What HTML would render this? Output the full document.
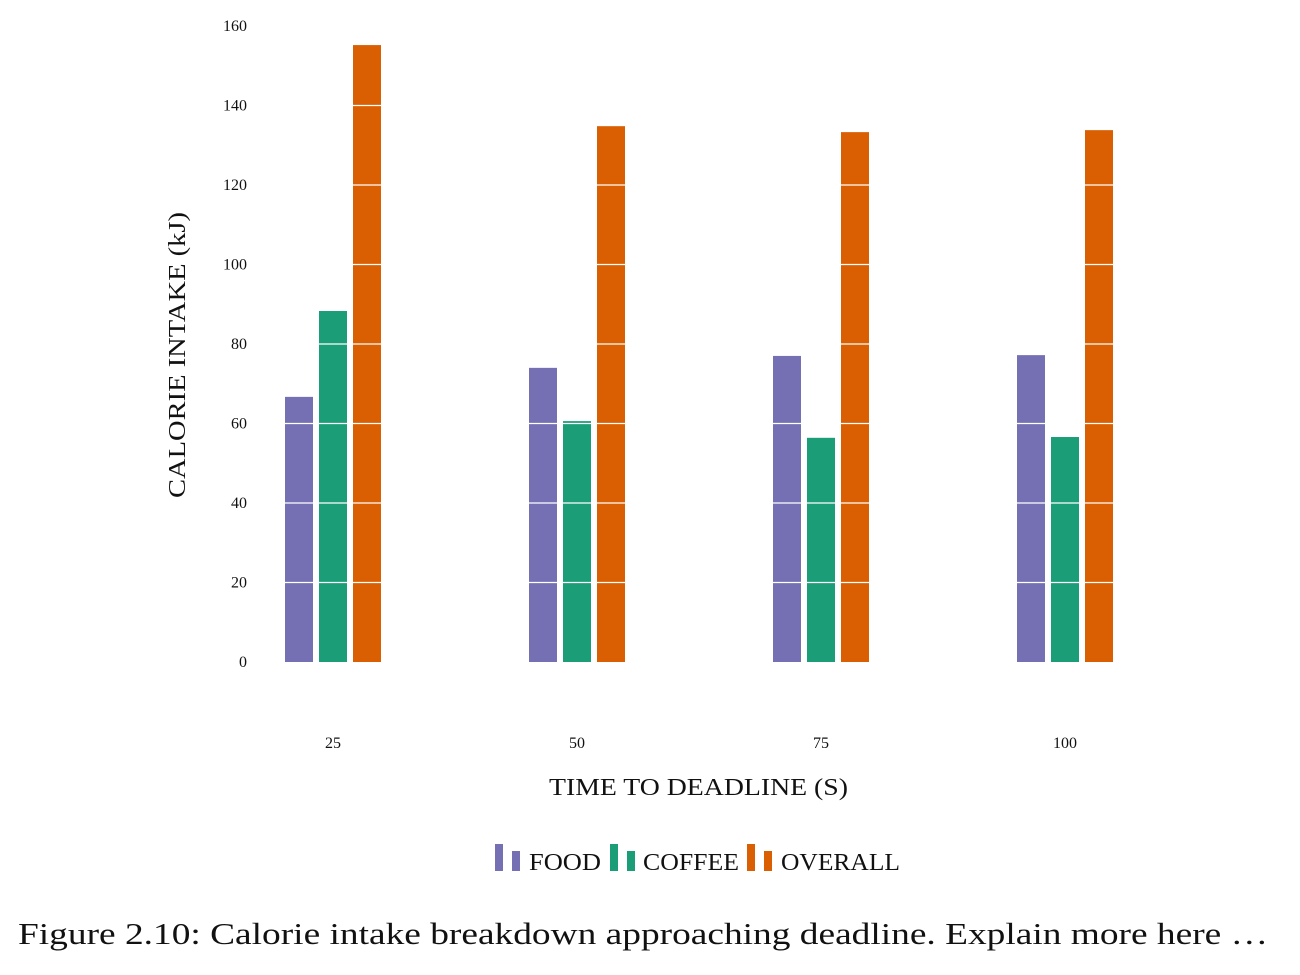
<!DOCTYPE html>
<html><head><meta charset="utf-8"><style>
body{margin:0;background:#fff;width:1300px;height:970px;overflow:hidden}
svg text{font-family:"Liberation Serif",serif;fill:#111}
</style></head><body>
<svg width="1300" height="970">
<g id="plot"></g>
<text x="333" y="748" font-size="16" text-anchor="middle">25</text>
<text x="577" y="748" font-size="16" text-anchor="middle">50</text>
<text x="821" y="748" font-size="16" text-anchor="middle">75</text>
<text x="1065" y="748" font-size="16" text-anchor="middle">100</text>
<text x="549" y="795" font-size="24" textLength="299" lengthAdjust="spacingAndGlyphs">TIME TO DEADLINE (S)</text>
<text transform="translate(185,498) rotate(-90)" font-size="24" textLength="286" lengthAdjust="spacingAndGlyphs">CALORIE INTAKE (kJ)</text>
<g>
<rect x="495" y="844" width="8" height="27" fill="#7570b3"/>
<rect x="512" y="851" width="8" height="20" fill="#7570b3"/>
<text x="529" y="870" font-size="24" textLength="72" lengthAdjust="spacingAndGlyphs">FOOD</text>
<rect x="610" y="844" width="8" height="27" fill="#1b9e77"/>
<rect x="627" y="851" width="8" height="20" fill="#1b9e77"/>
<text x="643" y="870" font-size="24" textLength="96" lengthAdjust="spacingAndGlyphs">COFFEE</text>
<rect x="747" y="844" width="8" height="27" fill="#d95f02"/>
<rect x="764" y="851" width="8" height="20" fill="#d95f02"/>
<text x="781" y="870" font-size="24" textLength="119" lengthAdjust="spacingAndGlyphs">OVERALL</text>
</g>
<text x="18" y="944" font-size="31" textLength="1250" lengthAdjust="spacingAndGlyphs">Figure 2.10: Calorie intake breakdown approaching deadline. Explain more here …</text>
</svg>
<script>
const categories=[25,50,75,100];
const food=[66.7,74.0,77.0,77.2];
const coffee=[88.3,60.6,56.4,56.6];
const overall=[155.2,134.8,133.3,133.8];
const yTicks=[0,20,40,60,80,100,120,140,160];
const NS="http://www.w3.org/2000/svg";
const g=document.getElementById('plot');
const y=v=>662-v*(636/160);
const x=c=>333+(c-25)*(244/25);
function mk(t,a){const e=document.createElementNS(NS,t);for(const k in a)e.setAttribute(k,a[k]);g.appendChild(e);return e;}
const series=[[food,'#7570b3',-48,'food'],[coffee,'#1b9e77',-14,'coffee'],[overall,'#d95f02',20,'overall']];
series.forEach(s=>{s[0].forEach((v,i)=>{
 const r=mk('rect',{x:x(categories[i])+s[2],y:y(v),width:28,height:662-y(v),fill:s[1]});
 
 
});});
yTicks.forEach(t=>{
 if(t>0){const l=mk('line',{x1:260,x2:1140,y1:y(t),y2:y(t),stroke:'#fff','stroke-width':1.2});
 
 }
 const tx=mk('text',{x:247,y:y(t)+5,'font-size':16,'text-anchor':'end'});
 tx.textContent=t;
 
 
});
</script>
</body></html>
